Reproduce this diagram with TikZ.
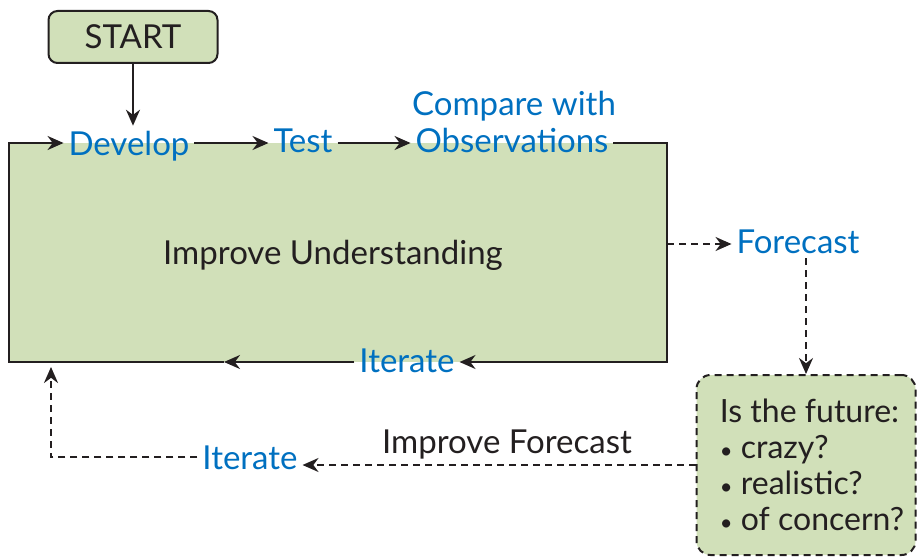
\documentclass[tikz,border=0pt]{standalone}
\usepackage{fontspec}
\setmainfont{Lato}
\usetikzlibrary{arrows.meta}
\definecolor{boxgreen}{RGB}{209,224,185}
\definecolor{textblue}{RGB}{0,112,192}
\definecolor{inkblack}{RGB}{35,31,32}
\newcommand{\qbullet}{{\fontsize{22}{22}\selectfont\textbullet}}

\begin{document}
\begin{tikzpicture}[x=1pt,y=-1pt,line width=2pt,draw=inkblack,
    >={Stealth[length=16pt,width=14pt]},
    every node/.style={font=\fontsize{33}{36}\selectfont,inner sep=4pt,text=inkblack},
    steplabel/.style={text=textblue,anchor=base},
    plainlabel/.style={anchor=base},
    dashedline/.style={dash pattern=on 7pt off 5pt}]
\useasboundingbox (0,0) rectangle (917,559);
% main box
\fill[boxgreen] (9,143) rectangle (667,362);
\coordinate (tl) at (9,143);
\coordinate (tr) at (667,143);
\coordinate (br) at (667,362);
\coordinate (bl) at (9,362);
\coordinate (midb) at (224,362);
\coordinate (rmid) at (667,244);
\coordinate (uptip) at (51,367);

\node[draw,rounded corners=9pt,fill=boxgreen,minimum width=169pt,minimum height=52pt] (start) at (133,37) {START};
\node[steplabel] (develop) at (129,155) {Develop};
\node[steplabel] (test) at (303,152) {Test};
\node[steplabel] (compare) at (514,115) {Compare with};
\node[steplabel] (obs) at (512,152) {Observations};
\node[plainlabel] (understand) at (333,264) {Improve Understanding};
\node[steplabel] (forecast) at (798,253) {Forecast};
\node[steplabel] (iterA) at (407,372) {Iterate};
\node[steplabel] (iterB) at (250,469) {Iterate};
\node[plainlabel] (improve) at (507,453) {Improve Forecast};
\node[draw,dashedline,rounded corners=14pt,fill=boxgreen,minimum width=219pt,minimum height=180pt] (question) at (806,465) {};
\node[align=left,font=\fontsize{32}{36}\selectfont] (questiontext) at ([xshift=6pt]question.center)
  {Is the future:\\ \qbullet\ crazy?\\ \qbullet\ realistic?\\ \qbullet\ of concern?};

% connectors
\draw[->] (start.south) -- (start.south |- develop.north);
\draw[->] (midb) -- (bl) -- (tl) -- (tl -| develop.west);
\draw[->] (develop.east |- tl) -- (test.west |- tl);
\draw[->] (test.east |- tl) -- (obs.west |- tl);
\draw[->] (obs.east |- tl) -- (tr) -- (br) -- (iterA.east |- br);
\draw[->] (iterA.west |- br) -- (midb);
\draw[dashedline,->] (rmid) -- (rmid -| forecast.west);
\draw[dashedline,->] (forecast.south -| question.north) -- (question.north);
\draw[dashedline,->] (question.west) -- (question.west -| iterB.east);
\draw[dashedline,->] (iterB.west) -| (uptip);
\end{tikzpicture}
\end{document}
